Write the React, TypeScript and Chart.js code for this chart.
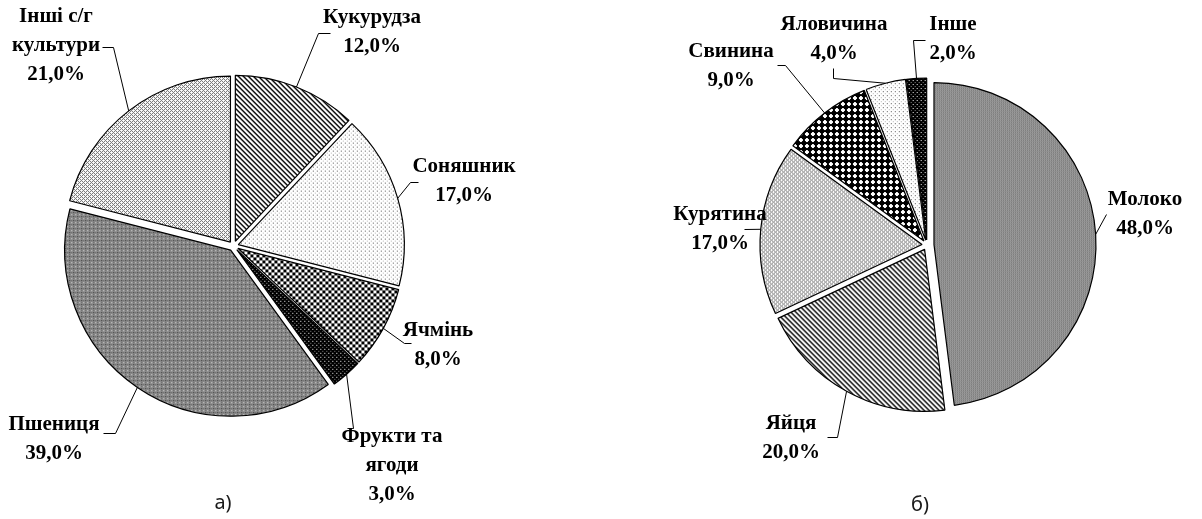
import React, { useEffect, useRef } from 'react';
import { Chart, registerables } from 'chart.js';

Chart.register(...registerables);

// ---------- data ----------
const cropCategories = ['Кукурудза', 'Соняшник', 'Ячмінь', 'Фрукти та\nягоди', 'Пшениця', 'Інші с/г\nкультури'];
const cropShares = [12, 17, 8, 3, 39, 21];
const livestockCategories = ['Молоко', 'Яйця', 'Курятина', 'Свинина', 'Яловичина', 'Інше'];
const livestockShares = [48, 20, 17, 9, 4, 2];
const panelCaptions = ['а)', 'б)'];

// ---------- layout / style ----------
type Pt = [number, number];
interface LabelLayout { x: number; y: number; path: Pt[] }

const W = 1202;
const H = 519;
const LINE_GAP = 29;

const cropCenter = { x: 233.5, y: 246 };
const cropRadius = 166;
const cropExplode = [5, 5, 5, 5, 5, 5];
const cropPatterns = ['hatch', 'sparseDots', 'checker', 'darkDots', 'grayDense', 'lattice'];
const cropLabelLayout: LabelLayout[] = [
  { x: 372, y: 18, path: [[318, 33], [330, 33]] },
  { x: 464, y: 167, path: [[410, 182], [418, 182]] },
  { x: 438, y: 331, path: [[404, 343], [411, 343]] },
  { x: 392, y: 437, path: [[353, 428]] },
  { x: 54, y: 425, path: [[115, 433], [103, 433]] },
  { x: 56, y: 17, path: [[113, 47], [102, 47]] },
];
const cropCaptionPos: Pt = [223, 503];

const liveCenter = { x: 927, y: 245 };
const liveRadius = 162;
const liveExplode = [7, 5, 5, 5, 5, 5];
const livePatterns = ['grayFine', 'hatch', 'lattice', 'diamond', 'sparseDots', 'darkDots'];
const liveLabelLayout: LabelLayout[] = [
  { x: 1145, y: 200, path: [[1106, 214]] },
  { x: 791, y: 424, path: [[837, 437], [827, 437]] },
  { x: 720, y: 215, path: [[744, 229]] },
  { x: 731, y: 52, path: [[785, 65], [777, 65]] },
  { x: 834, y: 25, path: [[833, 78], [833, 68]] },
  { x: 953, y: 25, path: [[913, 40], [925, 40]] },
];
const liveCaptionPos: Pt = [920, 505];

const LABEL_FONT = 'bold 21px "Liberation Serif", "Times New Roman", serif';
const CAPTION_FONT = '20px "Noto Sans", "DejaVu Sans", sans-serif';

// ---------- patterns ----------
function makePattern(size: number, painter: (x: number, y: number) => string | null, base = '#ffffff') {
  const c = document.createElement('canvas');
  c.width = size;
  c.height = size;
  const g = c.getContext('2d')!;
  g.fillStyle = base;
  g.fillRect(0, 0, size, size);
  for (let y = 0; y < size; y++) {
    for (let x = 0; x < size; x++) {
      const col = painter(x, y);
      if (col) {
        g.fillStyle = col;
        g.fillRect(x, y, 1, 1);
      }
    }
  }
  const tmp = document.createElement('canvas').getContext('2d')!;
  return tmp.createPattern(c, 'repeat') as CanvasPattern;
}

const mod = (a: number, n: number) => ((a % n) + n) % n;

function buildPattern(name: string): CanvasPattern {
  switch (name) {
    case 'hatch':
      return makePattern(5, (x, y) => (mod(x - y, 5) < 2 ? '#000' : null));
    case 'sparseDots':
      return makePattern(4, (x, y) => (x === 0 && y === 0 ? '#555' : x === 2 && y === 2 ? '#b5b5b5' : null));
    case 'checker':
      return makePattern(6, (x, y) => ((Math.floor(x / 3) + Math.floor(y / 3)) % 2 === 0 ? '#000' : null));
    case 'darkDots':
      return makePattern(4, (x, y) => (x === 1 && y === 1 ? '#fff' : x === 3 && y === 3 ? '#888' : '#000'));
    case 'grayDense':
      return makePattern(4, (x, y) => {
        if (x === 0 && y === 0) return '#333333';
        if (x === 2 && y === 2) return '#d0d0d0';
        if ((x === 0 && y === 2) || (x === 2 && y === 0)) return '#666666';
        return '#8c8c8c';
      });
    case 'grayFine':
      return makePattern(4, (x, y) => {
        if (mod(x + y, 2) === 0) return y % 2 === 0 ? '#505050' : '#707070';
        return '#bdbdbd';
      });
    case 'lattice':
      return makePattern(4, (x, y) => (mod(x + y, 4) === 0 || mod(x - y, 4) === 0 ? '#6e6e6e' : null));
    case 'diamond':
      return makePattern(6, (x, y) => (Math.abs(x - 2.5) + Math.abs(y - 2.5) <= 3 ? '#000' : null));
    default:
      return makePattern(1, () => '#ccc');
  }
}

const fmtPct = (v: number) => v.toFixed(1).replace('.', ',') + '%';

function piePlugin(
  explode: number[],
  layout: LabelLayout[],
  names: string[],
  values: number[],
  caption: string,
  captionPos: Pt
) {
  return {
    id: 'explodedPie',
    beforeDatasetsDraw(chart: any) {
      const meta = chart.getDatasetMeta(0);
      const ctx: CanvasRenderingContext2D = chart.ctx;
      meta.data.forEach((arc: any, i: number) => {
        const mid = (arc.startAngle + arc.endAngle) / 2;
        const d = explode[i] || 0;
        ctx.save();
        ctx.translate(Math.cos(mid) * d, Math.sin(mid) * d);
        arc.draw(ctx);
        ctx.restore();
      });
      return false;
    },
    afterDraw(chart: any) {
      const meta = chart.getDatasetMeta(0);
      const ctx: CanvasRenderingContext2D = chart.ctx;
      ctx.save();
      meta.data.forEach((arc: any, i: number) => {
        const mid = (arc.startAngle + arc.endAngle) / 2;
        const d = (explode[i] || 0) + arc.outerRadius;
        const sx = arc.x + Math.cos(mid) * d;
        const sy = arc.y + Math.sin(mid) * d;
        const lay = layout[i];
        ctx.beginPath();
        ctx.strokeStyle = '#000';
        ctx.lineWidth = 1;
        ctx.moveTo(sx, sy);
        lay.path.forEach(([px, py]) => ctx.lineTo(px + 0.5, py + 0.5));
        ctx.stroke();

        const lines = names[i].split('\n').concat([fmtPct(values[i])]);
        ctx.fillStyle = '#000';
        ctx.font = LABEL_FONT;
        ctx.textAlign = 'center';
        ctx.textBaseline = 'middle';
        lines.forEach((t, k) => ctx.fillText(t, lay.x, lay.y + k * LINE_GAP));
      });
      ctx.font = CAPTION_FONT;
      ctx.fillStyle = '#1a1a1a';
      ctx.textAlign = 'center';
      ctx.textBaseline = 'middle';
      ctx.fillText(caption, captionPos[0], captionPos[1]);
      ctx.restore();
    },
  };
}

function makeChart(
  canvas: HTMLCanvasElement,
  names: string[],
  values: number[],
  patterns: string[],
  center: { x: number; y: number },
  radius: number,
  explode: number[],
  layout: LabelLayout[],
  caption: string,
  captionPos: Pt
) {
  // chart area centred on the pie centre
  const halfW = Math.min(center.x, W - center.x);
  const halfH = Math.min(center.y, H - center.y);
  const padding = {
    left: center.x - halfW,
    right: W - (center.x + halfW),
    top: center.y - halfH,
    bottom: H - (center.y + halfH),
  };
  return new Chart(canvas, {
    type: 'pie',
    data: {
      labels: names,
      datasets: [
        {
          data: values,
          backgroundColor: patterns.map(buildPattern),
          borderColor: '#000',
          borderWidth: 1.2,
          radius,
        } as any,
      ],
    },
    options: {
      responsive: false,
      animation: false,
      events: [],
      layout: { padding },
      plugins: { legend: { display: false }, tooltip: { enabled: false } },
    },
    plugins: [piePlugin(explode, layout, names, values, caption, captionPos)],
  });
}

export default function App() {
  const leftRef = useRef<HTMLCanvasElement>(null);
  const rightRef = useRef<HTMLCanvasElement>(null);

  useEffect(() => {
    const a = makeChart(
      leftRef.current!, cropCategories, cropShares, cropPatterns, cropCenter, cropRadius,
      cropExplode, cropLabelLayout, panelCaptions[0], cropCaptionPos
    );
    const b = makeChart(
      rightRef.current!, livestockCategories, livestockShares, livePatterns, liveCenter, liveRadius,
      liveExplode, liveLabelLayout, panelCaptions[1], liveCaptionPos
    );
    return () => {
      a.destroy();
      b.destroy();
    };
  }, []);

  const style: React.CSSProperties = { position: 'absolute', left: 0, top: 0, width: W, height: H };
  return (
    <div style={{ position: 'absolute', left: 0, top: 0, width: W, height: H, background: '#fff' }}>
      <canvas ref={leftRef} width={W} height={H} style={style} />
      <canvas ref={rightRef} width={W} height={H} style={style} />
    </div>
  );
}
